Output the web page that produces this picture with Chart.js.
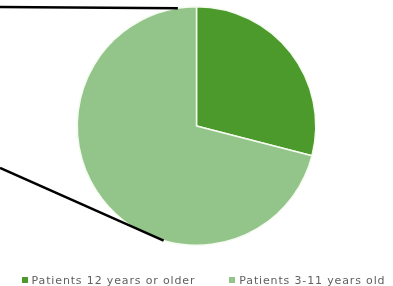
<!DOCTYPE html>
<html>
<head>
<meta charset="utf-8">
<script src="https://cdn.jsdelivr.net/npm/chart.js"></script>
<style>
  html, body { margin: 0; padding: 0; background: #fff; }
  #wrap { position: relative; width: 393px; height: 286px; }
  #legend {
    position: absolute; left: 0; top: 274px; width: 393px; height: 12px;
    display: flex; justify-content: center; align-items: center; gap: 34px;
    font: 11px "DejaVu Sans", sans-serif; letter-spacing: 0.85px; color: #606060;
    white-space: nowrap; padding-left: 14px; box-sizing: border-box;
  }
  #legend span.item { display: flex; align-items: center; }
  #legend i { display: inline-block; width: 6px; height: 6px; margin-right: 4px; }
</style>
</head>
<body>
<div id="wrap">
  <canvas id="myChart"></canvas>
  <div id="legend"></div>
</div>
<script>
const labels = ["Patients 12 years or older", "Patients 3-11 years old"];
const shares = [29, 71];
const colors = ["#4d9a2c", "#93c48a"];

// leader lines towards the (cut off) second pie, angles in degrees from 12 o'clock
const leaderAngles = [-9, 196];
const leaderEndsY = [7, 168];

const leaderLines = {
  id: "leaderLines",
  afterDatasetsDraw(chart) {
    const arc = chart.getDatasetMeta(0).data[0];
    if (!arc) return;
    const ctx = chart.ctx;
    ctx.save();
    ctx.strokeStyle = "#000";
    ctx.lineWidth = 2.5;
    leaderAngles.forEach((deg, i) => {
      const a = (deg - 90) * Math.PI / 180;
      const x = arc.x + arc.outerRadius * Math.cos(a);
      const y = arc.y + arc.outerRadius * Math.sin(a);
      ctx.beginPath();
      ctx.moveTo(0, leaderEndsY[i]);
      ctx.lineTo(x, y);
      ctx.stroke();
    });
    ctx.restore();
  }
};

const chart = new Chart(document.getElementById("myChart"), {
  type: "pie",
  data: {
    labels: labels,
    datasets: [{
      data: shares,
      backgroundColor: colors,
      borderColor: "#f4fbef",
      borderWidth: 1.5
    }]
  },
  options: {
    responsive: true,
    maintainAspectRatio: false,
    animation: false,
    layout: { padding: { top: 6, bottom: 40 } },
    plugins: {
      legend: { display: false },
      tooltip: { enabled: false }
    }
  },
  plugins: [leaderLines]
});

// legend built from the chart's own labels and colours
const legendEl = document.getElementById("legend");
chart.data.labels.forEach((lab, i) => {
  const item = document.createElement("span");
  item.className = "item";
  const box = document.createElement("i");
  box.style.background = chart.data.datasets[0].backgroundColor[i];
  item.appendChild(box);
  item.appendChild(document.createTextNode(lab));
  legendEl.appendChild(item);
});
</script>
</body>
</html>
